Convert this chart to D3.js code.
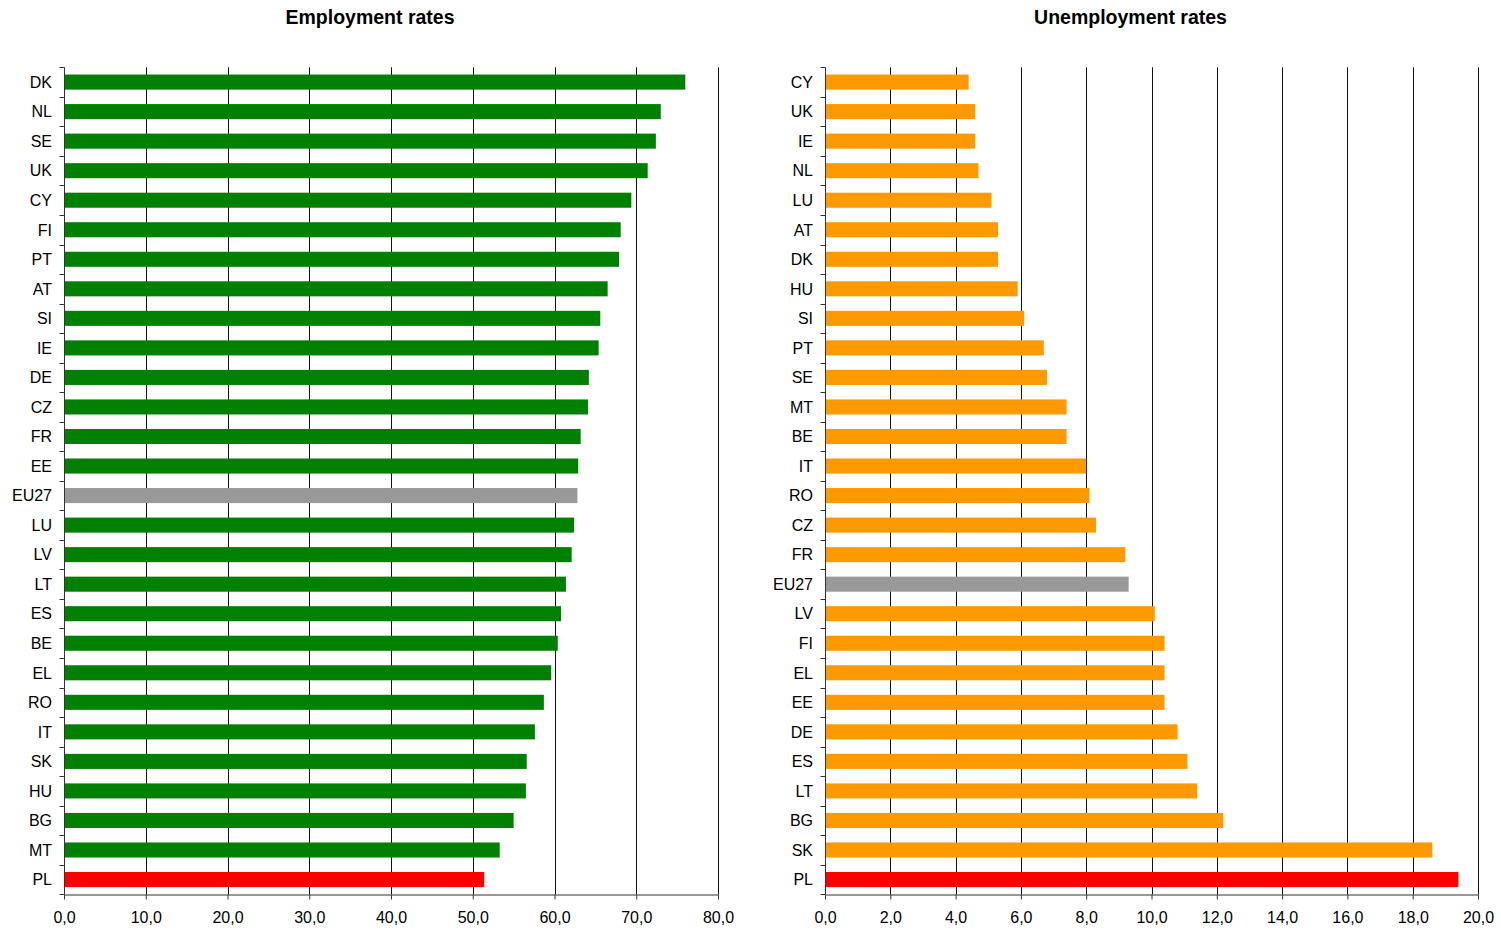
<!DOCTYPE html>
<html>
<head>
<meta charset="utf-8">
<script src="https://cdn.jsdelivr.net/npm/d3@7"></script>
<style>
  html, body { margin: 0; padding: 0; background: #fff; }
  svg { display: block; font-family: "Liberation Sans", Arial, sans-serif; }
</style>
</head>
<body>
<svg id="chart" width="1501" height="930"></svg>
<script>
// ---- Data ----
const empCategories = ["DK","NL","SE","UK","CY","FI","PT","AT","SI","IE","DE","CZ","FR","EE","EU27","LU","LV","LT","ES","BE","EL","RO","IT","SK","HU","BG","MT","PL"];
const empValues     = [76.0,73.0,72.4,71.4,69.4,68.1,67.9,66.5,65.6,65.4,64.2,64.1,63.2,62.9,62.8,62.4,62.1,61.4,60.8,60.4,59.6,58.7,57.6,56.6,56.5,55.0,53.3,51.4];
const unempCategories = ["CY","UK","IE","NL","LU","AT","DK","HU","SI","PT","SE","MT","BE","IT","RO","CZ","FR","EU27","LV","FI","EL","EE","DE","ES","LT","BG","SK","PL"];
const unempValues     = [4.4,4.6,4.6,4.7,5.1,5.3,5.3,5.9,6.1,6.7,6.8,7.4,7.4,8.0,8.1,8.3,9.2,9.3,10.1,10.4,10.4,10.4,10.8,11.1,11.4,12.2,18.6,19.4];
const empTicks   = [0,10,20,30,40,50,60,70,80];
const unempTicks = [0,2,4,6,8,10,12,14,16,18,20];
const titles = ["Employment rates", "Unemployment rates"];
const averageCategory = "EU27";
const focusCategory = "PL";

// ---- Drawing ----
const svg = d3.select("#chart");
const fmt = d => d.toFixed(1).replace(".", ",");

function panel(cfg) {
  const { cats, vals, ticks, title, x0, x1, color } = cfg;
  const top = 67.3, bottom = 894.3;
  const x = d3.scaleLinear().domain([0, ticks[ticks.length - 1]]).range([x0, x1]);
  const y = d3.scaleBand().domain(cats).range([top, bottom]).paddingInner(0.49).paddingOuter(0.245);
  const g = svg.append("g");

  // title
  g.append("text")
    .attr("x", (x0 + x1) / 2 - 21).attr("y", 24)
    .attr("text-anchor", "middle")
    .attr("font-weight", "bold").attr("font-size", 19.5)
    .attr("fill", "#000")
    .text(title);

  // gridlines
  g.append("g").selectAll("line").data(ticks.slice(1)).join("line")
    .attr("x1", d => Math.round(x(d)) + 0.5).attr("x2", d => Math.round(x(d)) + 0.5)
    .attr("y1", top).attr("y2", bottom)
    .attr("stroke", "#111").attr("stroke-width", 1);

  // bars
  g.append("g").selectAll("rect").data(cats).join("rect")
    .attr("x", x(0))
    .attr("y", d => y(d))
    .attr("width", (d, i) => x(vals[i]) - x(0))
    .attr("height", y.bandwidth())
    .attr("fill", d => d === averageCategory ? "#999999" : (d === focusCategory ? "#ff0000" : color));

  // y axis line + ticks at band boundaries
  const ax = Math.round(x(0)) + 0.5;
  g.append("line").attr("x1", ax).attr("x2", ax).attr("y1", top).attr("y2", bottom)
    .attr("stroke", "#333").attr("stroke-width", 1);
  const bounds = d3.range(cats.length + 1).map(i => top + i * y.step());
  g.append("g").selectAll("line").data(bounds).join("line")
    .attr("x1", ax - 5).attr("x2", ax)
    .attr("y1", d => Math.round(d) + 0.5).attr("y2", d => Math.round(d) + 0.5)
    .attr("stroke", "#333").attr("stroke-width", 1);

  // category labels
  g.append("g").selectAll("text").data(cats).join("text")
    .attr("x", x0 - 12)
    .attr("y", d => y(d) + y.bandwidth() / 2)
    .attr("dy", "0.36em")
    .attr("text-anchor", "end")
    .attr("font-size", 16)
    .attr("fill", "#000")
    .text(d => d);

  // x axis
  const xAxis = d3.axisBottom(x).tickValues(ticks).tickFormat(fmt).tickSize(5).tickSizeOuter(0);
  const xg = g.append("g").attr("transform", `translate(0,${Math.round(bottom) + 0.5})`).call(xAxis);
  xg.select(".domain").attr("stroke", "#333");
  xg.selectAll(".tick line").attr("stroke", "#333");
  xg.selectAll(".tick text")
    .attr("font-family", '"Liberation Sans", Arial, sans-serif')
    .attr("font-size", 16).attr("fill", "#000").attr("y", 17);
}

panel({ cats: empCategories, vals: empValues, ticks: empTicks, title: titles[0], x0: 64, x1: 718, color: "#008000" });
panel({ cats: unempCategories, vals: unempValues, ticks: unempTicks, title: titles[1], x0: 825, x1: 1478, color: "#ff9900" });
</script>
</body>
</html>
